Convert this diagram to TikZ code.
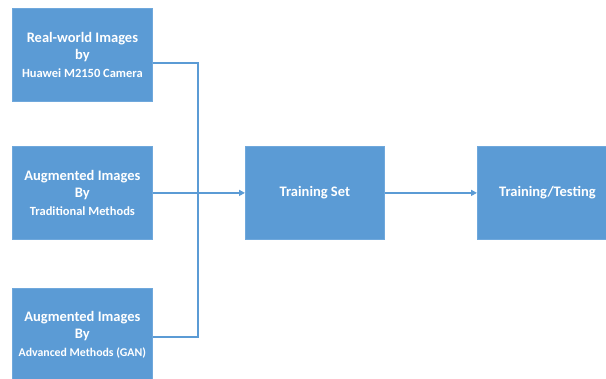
\documentclass[tikz,border=0pt]{standalone}
\usepackage{fontspec}
\setmainfont{Carlito}
\usetikzlibrary{arrows.meta}
\definecolor{boxblue}{HTML}{5B9BD5}
\definecolor{edgeblue}{HTML}{6FA8DC}
\newcommand{\smallt}{\fontsize{12.5}{17.5}\selectfont}
\newcommand{\smallerT}{\fontsize{11.8}{17.5}\selectfont}
\begin{document}
\begin{tikzpicture}[x=1pt,y=-1pt,
  box/.style={draw=edgeblue,line width=0.8pt,fill=boxblue,text=white,
    font=\bfseries\fontsize{14.5}{17.5}\selectfont,
    minimum width=140pt,minimum height=93pt,inner sep=0pt,align=center,anchor=north west},
  conn/.style={draw=boxblue,line width=1.5pt},
  arr/.style={conn,-{Triangle[length=6pt,width=6pt]}}]
\useasboundingbox (0,0) rectangle (606,379);
\node[box] (a) at (12,8) {Real-world Images\\by\\{\smallt Huawei M2150 Camera}};
\node[box] (b) at (12,146) {Augmented Images\\By\\{\smallt Traditional Methods}};
\node[box,minimum height=92pt] (c) at (12,288) {Augmented Images\\By\\{\smallerT Advanced Methods (GAN)}};
\node[box,minimum width=139pt] (t) at (245,146) {Training Set};
\node[box,minimum width=140pt] (tt) at (477,146) {Training/Testing};
\coordinate (j) at (198,192);
\draw[conn] ([yshift=-8pt]a.east) -| (j);
\draw[conn] ([yshift=-2.5pt]c.east) -| (j);
\draw[arr] (b.east) -- (t.west);
\draw[arr] (t.east) -- (tt.west);
\end{tikzpicture}
\end{document}
